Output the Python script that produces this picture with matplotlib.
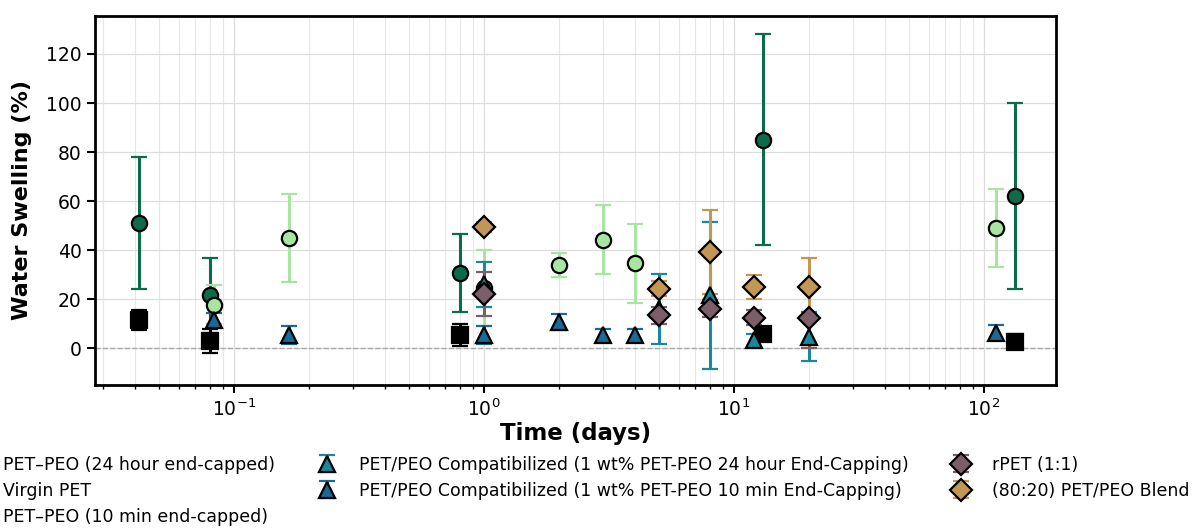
import matplotlib
matplotlib.use("Agg")
import matplotlib.pyplot as plt
import numpy as np

# ---- data ----
peo24_x = [0.0417, 0.08, 0.8, 13, 133]
peo24_y = [51, 21.6, 30.7, 85, 62]
peo24_e = [27, 15.4, 16, 43, 38]

virgin_x = [0.0417, 0.08, 0.8, 13, 133]
virgin_y = [11.4, 3, 5.3, 6, 2.6]
virgin_e = [4, 5, 4.5, 1, 3]

peo10_x = [0.0833, 0.1667, 1, 2, 3, 4, 112]
peo10_y = [17.8, 45, 24.5, 34, 44.3, 34.6, 49]
peo10_e = [8, 18, 15.5, 5, 14, 16, 16]

comp24_x = [1, 5, 8, 12, 20]
comp24_y = [26, 16, 21.6, 3.3, 4.6]
comp24_e = [9, 14.3, 30, 2.5, 10]

comp10_x = [0.0833, 0.1667, 1, 2, 3, 4, 112]
comp10_y = [11.4, 5.3, 5.3, 10.7, 5.3, 5.3, 6.3]
comp10_e = [3, 3.7, 3.7, 3.3, 2.7, 2.7, 3]

rpet_x = [1, 5, 8, 12, 20]
rpet_y = [22, 13.5, 16.2, 12.5, 12.5]
rpet_e = [9, 3.5, 3.5, 3, 12.5]

blend_x = [1, 5, 8, 12, 20]
blend_y = [49.5, 24.3, 39.3, 25, 25]
blend_e = [2, 3, 17, 5, 12]

labels = [
    "PET–PEO (24 hour end-capped)",
    "Virgin PET",
    "PET–PEO (10 min end-capped)",
    "PET/PEO Compatibilized (1 wt% PET-PEO 24 hour End-Capping)",
    "PET/PEO Compatibilized (1 wt% PET-PEO 10 min End-Capping)",
    "rPET (1:1)",
    "(80:20) PET/PEO Blend",
]

series = [
    (peo24_x, peo24_y, peo24_e, "o", "#0c6b48", 11),
    (virgin_x, virgin_y, virgin_e, "s", "#000000", 11),
    (peo10_x, peo10_y, peo10_e, "o", "#a8e4a2", 11),
    (comp24_x, comp24_y, comp24_e, "^", "#18889a", 11),
    (comp10_x, comp10_y, comp10_e, "^", "#1a6a98", 11),
    (rpet_x, rpet_y, rpet_e, "D", "#7b5e69", 11),
    (blend_x, blend_y, blend_e, "D", "#c29654", 11),
]

plt.rcParams['font.family'] = ['DejaVu Sans']
fig = plt.figure(figsize=(11.95, 5.29), dpi=100)
ax = fig.add_axes([0.0795, 0.2722, 0.8042, 0.6976])

handles = []
for (x, y, e, m, c, ms), lab in zip(series, labels):
    h = ax.errorbar(x, y, yerr=e, fmt=m, color=c, ecolor=c, markerfacecolor=c,
                    markeredgecolor="black", markeredgewidth=1.6, markersize=ms,
                    elinewidth=2.2, capsize=6, capthick=2.2, linestyle="none",
                    label=lab, zorder=3)
    handles.append(h)

ax.axhline(0, color="#aaaaaa", linestyle="--", linewidth=1, zorder=1)
ax.set_xscale("log")
ax.set_xlim(0.0278, 194)
ax.set_ylim(-15, 135.5)
ax.set_yticks([0, 20, 40, 60, 80, 100, 120])
ax.grid(True, which="major", color="#dddddd", linewidth=0.9, zorder=0)
ax.grid(True, which="minor", axis="x", color="#e6e6e6", linewidth=0.8, zorder=0)
ax.set_axisbelow(True)
for s in ax.spines.values():
    s.set_linewidth(2)
ax.tick_params(axis="both", which="major", labelsize=13.5, width=1.5, length=6)
ax.tick_params(axis="x", which="minor", width=1, length=3)
ax.set_xlabel("Time (days)", fontsize=16.5, fontweight="bold", labelpad=2)
ax.set_ylabel("Water Swelling (%)", fontsize=16, fontweight="bold", labelpad=10)

fig.legend(handles=handles, labels=labels, loc="upper left", ncol=3,
           bbox_to_anchor=(-0.0515, 0.168), frameon=False, fontsize=12.55,
           labelspacing=0.45, columnspacing=2.0)

fig.savefig("out.png", dpi=100)
